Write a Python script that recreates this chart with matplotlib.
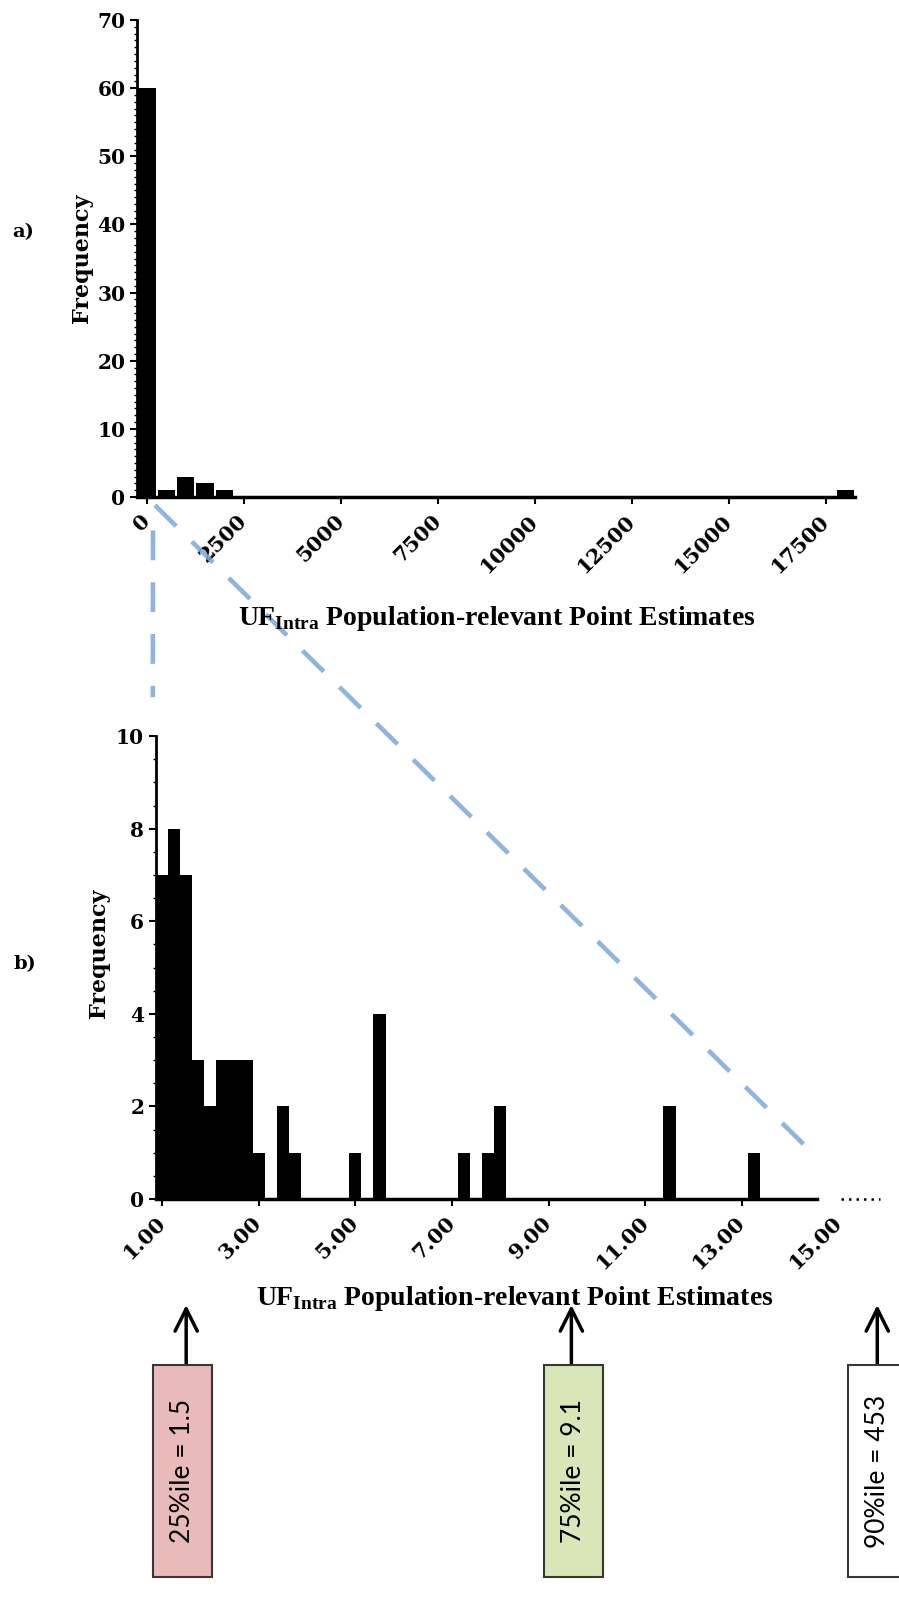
import numpy as np
import matplotlib

matplotlib.use("Agg")
import matplotlib.pyplot as plt
import matplotlib.transforms as mtransforms
from matplotlib.patches import Rectangle
from matplotlib.lines import Line2D
from matplotlib.ticker import MultipleLocator

# panel a: counts per 500-wide bin (bin centres)
a_centers = [0, 500, 1000, 1500, 2000, 18000]
a_counts = [60, 1, 3, 2, 1, 1]
a_ticks = [0, 2500, 5000, 7500, 10000, 12500, 15000, 17500]

# panel b: zoom on the low end, 0.25-wide bins
b_centers = [1.00, 1.25, 1.50, 1.75, 2.00, 2.25, 2.50, 2.75, 3.00,
             3.50, 3.75, 5.00, 5.50, 7.25, 7.75, 8.00, 11.50, 13.25]
b_counts = [7, 8, 7, 3, 2, 3, 3, 3, 1, 2, 1, 1, 4, 1, 1, 2, 2, 1]
b_ticks = [1, 3, 5, 7, 9, 11, 13, 15]

pct_labels = ["25%ile = 1.5", "75%ile = 9.1", "90%ile = 453"]
pct_colors = ["#e9baba", "#d7e7b7", "#ffffff"]

SERIF = "DejaVu Serif"
BLUE = "#7aa7dc"
XLABEL = r"UF$_{\mathbf{Intra}}$ Population-relevant Point Estimates"

plt.rcParams["mathtext.fontset"] = "custom"
plt.rcParams["mathtext.bf"] = "Liberation Serif:bold"
plt.rcParams["mathtext.rm"] = "Liberation Serif"

fig = plt.figure(figsize=(8.99, 16.04), dpi=100)
ax_a = fig.add_axes([0.1527, 0.6901, 0.7983, 0.2974])
ax_b = fig.add_axes([0.1735, 0.2525, 0.8131, 0.2886])

ax_a.bar(a_centers, a_counts, width=450, color="black")
ax_a.set_xlim(-250, 18250)
ax_a.set_ylim(0, 70)
ax_a.set_xticks(a_ticks)
ax_a.set_xticklabels([str(t) for t in a_ticks])
ax_a.yaxis.set_major_locator(MultipleLocator(10))
ax_a.yaxis.set_minor_locator(MultipleLocator(1))

ax_b.bar(b_centers, b_counts, width=0.25, color="black")
ax_b.set_xlim(0.875, 16.0)
ax_b.set_ylim(0, 10)
ax_b.set_xticks(b_ticks)
ax_b.set_xticklabels([f"{t:.2f}" for t in b_ticks])
ax_b.yaxis.set_major_locator(MultipleLocator(2))
ax_b.yaxis.set_minor_locator(MultipleLocator(0.5))
ax_b.spines["bottom"].set_bounds(0.875, 14.56)
# continuation dots past the end of the axis
ax_b.plot([15.05, 15.85], [0, 0], ls=(0, (1, 2)), lw=1.8, color="black",
          clip_on=False)

for ax in (ax_a, ax_b):
    ax.spines["top"].set_visible(False)
    ax.spines["right"].set_visible(False)
    ax.spines["left"].set_linewidth(2)
    ax.spines["bottom"].set_linewidth(2.5)
    ax.tick_params(axis="both", which="major", direction="out", length=5,
                   width=1.5)
    ax.tick_params(axis="x", which="major", pad=10)
    ax.tick_params(axis="y", which="minor", direction="out", length=2.5,
                   width=1)
    for lab in ax.get_xticklabels():
        lab.set(rotation=45, ha="right", va="center", rotation_mode="anchor",
                family=SERIF, fontweight="bold", fontsize=15)
    for lab in ax.get_yticklabels():
        lab.set(family=SERIF, fontweight="bold", fontsize=14.5)
    ax.set_ylabel("Frequency", family=SERIF, fontweight="bold", fontsize=16)
    ax.set_facecolor("none")

ax_a.yaxis.set_label_coords(-0.061, 0.5)
ax_b.yaxis.set_label_coords(-0.063, 0.53)
ax_b.xaxis.get_major_ticks()[-1].tick1line.set_visible(False)

fig.text(497 / 899, 1 - 625 / 1604, XLABEL, ha="center", va="baseline",
         family="Liberation Serif", fontweight="bold", fontsize=20)
fig.text(515 / 899, 1 - 1305 / 1604, XLABEL, ha="center", va="baseline",
         family="Liberation Serif", fontweight="bold", fontsize=20)

fig.text(12 / 899, 1 - 232 / 1604, "a)", ha="left", va="center",
         family=SERIF, fontweight="bold", fontsize=14)
fig.text(13 / 899, 1 - 964 / 1604, "b)", ha="left", va="center",
         family=SERIF, fontweight="bold", fontsize=14)

# blue zoom guides from panel a down to panel b
to_fig = fig.transFigure.inverted()
for pa, pb in [((206, -1.2), (14.55, 0.9)), ((155, -4.9), (0.81, 10.84))]:
    fa = to_fig.transform(ax_a.transData.transform(pa))
    fb = to_fig.transform(ax_b.transData.transform(pb))
    fig.add_artist(Line2D([fa[0], fb[0]], [fa[1], fb[1]],
                          transform=fig.transFigure, color=BLUE, lw=3.3,
                          linestyle=(0, (6.5, 4.8)), alpha=0.85, zorder=3))

# percentile boxes with arrows pointing up at the bottom axis
blend = mtransforms.blended_transform_factory(ax_b.transData, fig.transFigure)
arrow_x = [1.5, 9.47, 15.8]
box_x = [1.42, 9.51, 15.8]
box_w = 1.22
box_y0, box_y1 = 1 - 1577 / 1604, 1 - 1365 / 1604
for ax_, bx, lab, col in zip(arrow_x, box_x, pct_labels, pct_colors):
    rect = Rectangle((bx - box_w / 2, box_y0), box_w, box_y1 - box_y0,
                     transform=blend, facecolor=col, edgecolor="#3d3535",
                     lw=1.5, clip_on=False)
    fig.add_artist(rect)
    fig.text(bx, (box_y0 + box_y1) / 2, lab, transform=blend, rotation=90,
             ha="center", va="center", family="Lato", fontsize=19)
    ax_b.annotate("", xy=(ax_, 1 - 1305 / 1604), xytext=(ax_, box_y1),
                  xycoords=blend, textcoords=blend, annotation_clip=False,
                  arrowprops=dict(arrowstyle="->", lw=2.5, color="black",
                                  mutation_scale=40, shrinkA=0, shrinkB=0))

fig.savefig("out.png", dpi=100)
plt.close(fig)
